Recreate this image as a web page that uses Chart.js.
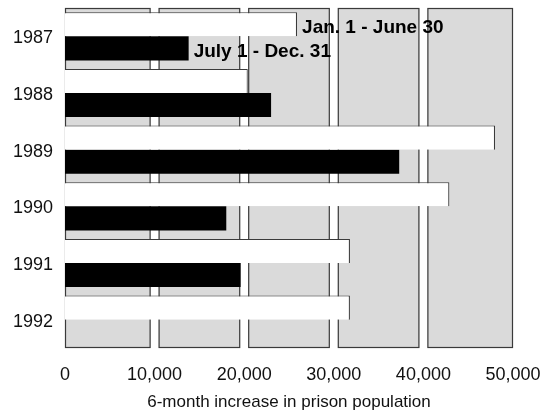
<!DOCTYPE html>
<html>
<head>
<meta charset="utf-8">
<script src="https://cdn.jsdelivr.net/npm/chart.js@4/dist/chart.umd.min.js"></script>
<style>
 html,body{margin:0;padding:0;background:#fff;}
 #wrap{width:549px;height:416px;}
</style>
</head>
<body>
<div id="wrap"><canvas id="c" width="549" height="416"></canvas></div>
<script>
const years=["1987","1988","1989","1990","1991","1992"];
const firstHalf=[25900,20400,48000,42900,31800,31800];
const secondHalf=[13800,23000,37300,18000,19600,0];
const seriesNames=["Jan. 1 - June 30","July 1 - Dec. 31"];
const xTicks=[0,10000,20000,30000,40000,50000];
const axisTitle="6-month increase in prison population";

const FONT="'Liberation Sans', Arial, Helvetica, sans-serif";

// gray panels with dark edges, white gaps at each 10,000
const panels={
 id:"panels",
 beforeDatasetsDraw(chart){
  const {ctx,chartArea:a,scales:{x}}=chart;
  const gap=4;
  ctx.save();
  for(let i=0;i<xTicks.length-1;i++){
   let l=x.getPixelForValue(xTicks[i]), r=x.getPixelForValue(xTicks[i+1]);
   if(i>0) l+=gap;
   if(i<xTicks.length-2) r-=gap;
   ctx.fillStyle="#dadada";
   ctx.fillRect(l,a.top,r-l,a.bottom-a.top);
   ctx.strokeStyle="#3a3a3a";
   ctx.lineWidth=1.2;
   ctx.strokeRect(l+0.5,a.top+0.5,r-l-1,a.bottom-a.top-1);
  }
  ctx.restore();
 },
 afterDatasetsDraw(chart){
  const {ctx}=chart;
  ctx.save();
  ctx.font="bold 19px "+FONT;
  ctx.fillStyle="#000";
  ctx.textAlign="left";
  ctx.textBaseline="middle";
  chart.data.datasets.forEach((ds,i)=>{
   const bar=chart.getDatasetMeta(i).data[0];
   ctx.fillText(ds.label,bar.x+5,bar.y+3);
  });
  ctx.restore();
 }
};

new Chart(document.getElementById("c"),{
 type:"bar",
 data:{
  labels:years,
  datasets:[
   {label:seriesNames[0],data:firstHalf,backgroundColor:"#ffffff",borderColor:"#3a3a3a",borderWidth:{top:1,right:1.2,bottom:0,left:0},borderSkipped:false},
   {label:seriesNames[1],data:secondHalf,backgroundColor:"#000000",borderWidth:0}
  ]
 },
 options:{
  indexAxis:"y",
  responsive:false,
  animation:false,
  events:[],
  layout:{padding:{top:8,right:36,bottom:0,left:0}},
  datasets:{bar:{categoryPercentage:0.85,barPercentage:1}},
  plugins:{legend:{display:false},tooltip:{enabled:false}},
  scales:{
   x:{
    min:0,max:50000,
    afterFit(s){s.height=68;s.paddingLeft=0;s.paddingRight=0;},
    afterBuildTicks(s){s.ticks=xTicks.map(v=>({value:v}));},
    grid:{display:false,drawTicks:false},
    border:{display:false},
    ticks:{padding:16,color:"#111",font:{family:FONT,size:18},
      callback:v=>v.toLocaleString("en-US"),maxRotation:0},
    title:{display:true,text:axisTitle,color:"#111",font:{family:FONT,size:17},padding:{top:0,bottom:3}}
   },
   y:{
    afterFit(s){s.width=65;s.paddingTop=0;s.paddingBottom=0;},
    grid:{display:false,drawTicks:false},
    border:{display:false},
    ticks:{padding:12,labelOffset:2,color:"#111",font:{family:FONT,size:18}}
   }
  }
 },
 plugins:[panels]
});
</script>
</body>
</html>
